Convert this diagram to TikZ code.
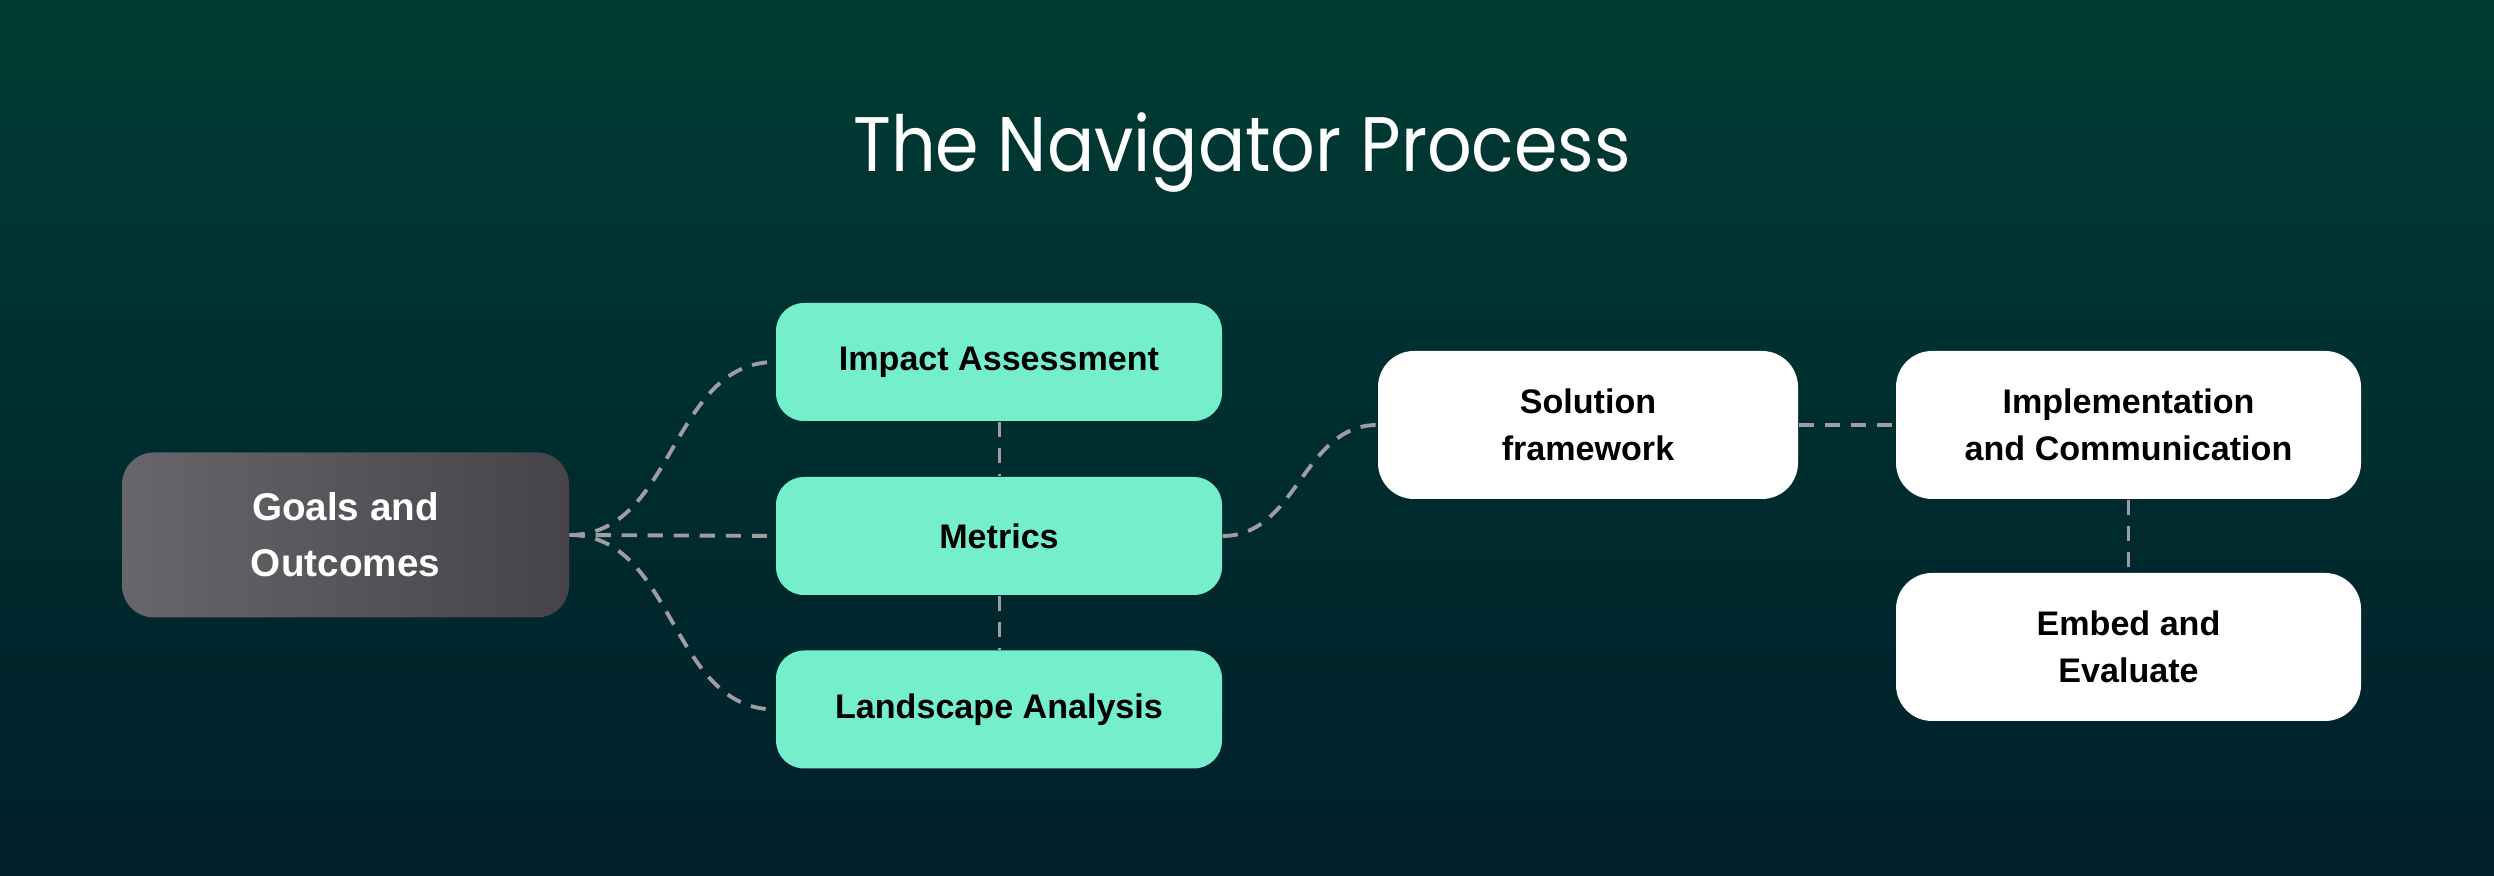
\documentclass[tikz,border=0pt]{standalone}
\usepackage{fontspec}
\setmainfont{Liberation Sans}
\newfontfamily\titlefont[FakeStretch=0.905]{Poppins}
\usetikzlibrary{positioning}

\definecolor{bgtop}{RGB}{0,60,52}
\definecolor{bgbot}{RGB}{0,31,42}
\definecolor{mint}{RGB}{116,238,203}
\definecolor{goalsa}{RGB}{104,101,107}
\definecolor{goalsb}{RGB}{70,68,73}
\definecolor{linkgray}{RGB}{160,156,164}

\tikzset{
	goalbox/.style={rounded corners=0.32cm, left color=goalsa, right color=goalsb,
		minimum width=4.47cm, minimum height=1.65cm, inner sep=0pt, align=center,
		text=white, font=\fontsize{11}{15.9}\selectfont\bfseries},
	mintbox/.style={rounded corners=0.28cm, fill=mint, minimum width=4.46cm,
		minimum height=1.18cm, inner sep=0pt, align=center,
		font=\fontsize{9.7}{13.4}\selectfont\bfseries},
	whitebox/.style={rounded corners=0.36cm, fill=white, minimum height=1.48cm,
		inner sep=0pt, align=center, font=\fontsize{9.7}{13.4}\selectfont\bfseries},
	link/.style={draw=linkgray, line width=1.1pt, dash pattern=on 4.3pt off 3.1pt},
	vlink/.style={link, line width=0.85pt}
}

\begin{document}
\begin{tikzpicture}
	\useasboundingbox (0,0) rectangle (24.94,8.76);
	\fill[top color=bgtop, bottom color=bgbot] (0,0) rectangle (24.94,8.76);

	\node[text=white, font=\titlefont\fontsize{22}{26}\selectfont, anchor=base]
		(title) at (12.42,7.04) {The Navigator Process};

	\node[goalbox]						(goals)		at (3.455,3.41)		{Goals and\\Outcomes};
	\node[mintbox]						(impact)	at (9.99,5.14)		{Impact Assessment};
	\node[mintbox]						(metrics)	at (9.99,3.40)		{Metrics};
	\node[mintbox]						(landscape)	at (9.99,1.665)		{Landscape Analysis};
	\node[whitebox, minimum width=4.20cm]	(solution)	at (15.88,4.51)		{Solution\\framework};
	\node[whitebox, minimum width=4.65cm]	(implement)	at (21.285,4.51)	{Implementation\\and Communication};
	\node[whitebox, minimum width=4.65cm]	(embed)		at (21.285,2.29)	{Embed and\\Evaluate};

	\draw[link]		(goals.east) -- (metrics.west);
	\draw[link]		(goals.east) to[out=0,in=180] (impact.west);
	\draw[link]		(goals.east) to[out=0,in=180] (landscape.west);
	\draw[vlink]	(impact.south) -- (metrics.north);
	\draw[vlink]	(metrics.south) -- (landscape.north);
	\draw[link]		(metrics.east) to[out=0,in=180] (solution.west);
	\draw[link]		(solution.east) -- (implement.west);
	\draw[vlink]	(implement.south) -- (embed.north);
\end{tikzpicture}
\end{document}
